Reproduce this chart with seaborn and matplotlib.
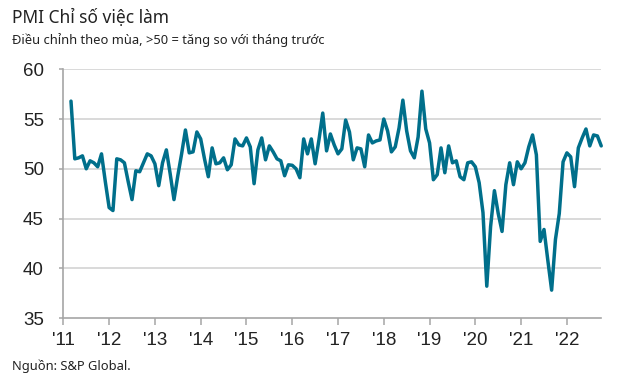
import numpy as np
import pandas as pd
import matplotlib
matplotlib.use("Agg")
import matplotlib.pyplot as plt
import seaborn as sns

# PMI employment index, monthly, Mar 2011 - Oct 2022
v2011 = [56.8, 51.0, 51.1, 51.3, 50.0, 50.8, 50.6, 50.2, 51.5, 48.7]          # Mar-Dec
v2012 = [46.1, 45.8, 51.0, 50.9, 50.6, 48.7, 46.9, 49.8, 49.7, 50.6, 51.5, 51.3]
v2013 = [50.5, 48.3, 50.6, 51.9, 49.5, 46.9, 49.3, 51.5, 53.9, 51.6, 51.7, 53.7]
v2014 = [53.0, 51.0, 49.2, 52.1, 50.5, 50.6, 51.1, 49.9, 50.4, 53.0, 52.4, 52.3]
v2015 = [53.1, 52.2, 48.5, 51.9, 53.1, 50.9, 52.3, 51.7, 51.0, 50.8, 49.3, 50.4]
v2016 = [50.35, 50.0, 49.1, 53.0, 51.5, 53.0, 50.5, 52.9, 55.6, 51.8, 53.5, 52.4]
v2017 = [51.5, 52.0, 54.9, 53.7, 50.9, 52.1, 52.0, 50.2, 53.4, 52.6, 52.8, 52.9]
v2018 = [55.0, 53.8, 51.7, 52.2, 54.1, 56.9, 53.8, 51.8, 51.1, 53.2, 57.8, 54.0]
v2019 = [52.6, 48.9, 49.4, 52.1, 49.6, 52.3, 50.6, 50.8, 49.2, 48.9, 50.6, 50.7]
v2020 = [50.2, 48.6, 45.6, 38.2, 44.2, 47.8, 45.5, 43.7, 48.4, 50.6, 48.4, 50.7]
v2021 = [50.0, 50.6, 52.2, 53.4, 51.4, 42.7, 43.9, 40.8, 37.8, 42.9, 45.5, 50.7]
v2022 = [51.6, 51.2, 48.2, 52.1, 53.1, 54.0, 52.3, 53.4, 53.3, 52.3]          # Jan-Oct

year_ticks = list(range(2011, 2023))
year_labels = ["'%02d" % (y % 100) for y in year_ticks]
y_ticks = [35, 40, 45, 50, 55, 60]

title = "PMI Chỉ số việc làm"
subtitle = "Điều chỉnh theo mùa, >50 = tăng so với tháng trước"
source = "Nguồn: S&P Global."

# build the monthly frame
rows = []
for year, vals, first_month in [(2011, v2011, 3), (2012, v2012, 1), (2013, v2013, 1),
                                (2014, v2014, 1), (2015, v2015, 1), (2016, v2016, 1),
                                (2017, v2017, 1), (2018, v2018, 1), (2019, v2019, 1),
                                (2020, v2020, 1), (2021, v2021, 1), (2022, v2022, 1)]:
    for k, v in enumerate(vals):
        m = first_month + k
        rows.append({"t": year + (m - 1) / 12, "pmi": v})
df = pd.DataFrame(rows)

sns.set_style("white")
plt.rcParams['font.family'] = ['Noto Sans', 'DejaVu Sans']

fig = plt.figure(figsize=(6.4, 3.88), dpi=100)
ax = fig.add_axes([0.099, 0.1804, 0.8397, 0.641])

sns.lineplot(data=df, x="t", y="pmi", ax=ax, color="#006f8b", lw=2.5,
             solid_joinstyle="round", clip_on=False)

ax.set_xlim(2011, 2022.74)
ax.set_ylim(35, 60)
ax.set_xticks(year_ticks)
ax.set_xticklabels(year_labels, family=['Liberation Sans'], fontsize=13.5, color="#222222")
ax.set_yticks(y_ticks)
ax.set_yticklabels([str(y) for y in y_ticks], family=['Liberation Sans'], fontsize=13.5, color="#222222")
ax.set_xlabel("")
ax.set_ylabel("")

for y in y_ticks[1:]:
    ax.axhline(y, color="#d9d9d9", lw=1.4, zorder=0)

for s in ["top", "right"]:
    ax.spines[s].set_visible(False)
for s in ["left", "bottom"]:
    ax.spines[s].set_color("#a6a6a6")
    ax.spines[s].set_linewidth(1.2)
ax.tick_params(axis="x", direction="out", length=5, width=1.1, color="#a6a6a6", pad=5, bottom=True)
ax.tick_params(axis="y", direction="out", length=3, width=1.1, color="#a6a6a6", pad=11, left=True)

fig.text(0.019, 0.955, title, fontsize=12.5, color="#222222", va="center", ha="left")
fig.text(0.019, 0.897, subtitle, fontsize=9.3, color="#222222", va="center", ha="left")
fig.text(0.019, 0.057, source, fontsize=9.3, color="#222222", va="center", ha="left")

fig.savefig("out.png", dpi=100)
